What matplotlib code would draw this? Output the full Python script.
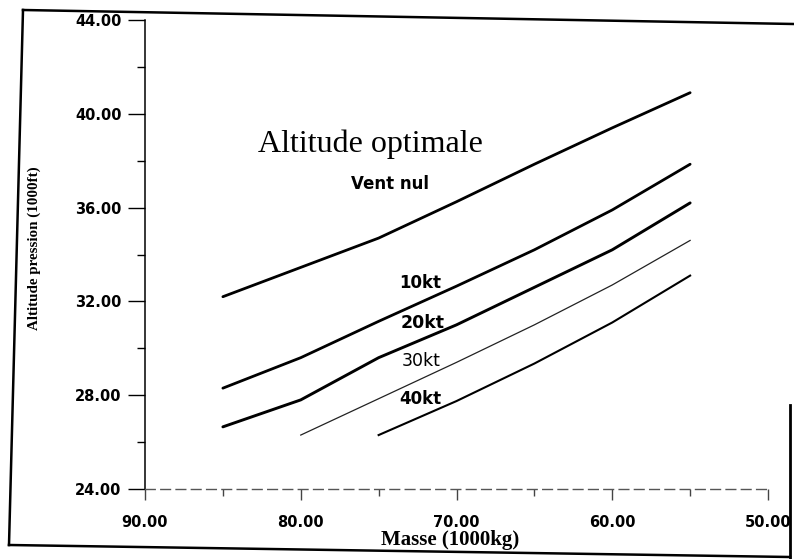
import matplotlib
matplotlib.use("Agg")
import matplotlib.pyplot as plt
from matplotlib.lines import Line2D
from matplotlib.ticker import MultipleLocator, FormatStrFormatter

# Aircraft mass (1000 kg) and optimum pressure altitude (1000 ft) per wind component
masse_vent_nul = [85, 80, 75, 70, 65, 60, 55]
alt_vent_nul = [32.2, 33.45, 34.7, 36.25, 37.85, 39.4, 40.9]

masse_10kt = [85, 80, 75, 70, 65, 60, 55]
alt_10kt = [28.3, 29.6, 31.15, 32.65, 34.2, 35.9, 37.85]

masse_20kt = [85, 80, 75, 70, 65, 60, 55]
alt_20kt = [26.65, 27.8, 29.6, 31.0, 32.6, 34.2, 36.2]

masse_30kt = [80, 75, 70, 65, 60, 55]
alt_30kt = [26.3, 27.85, 29.4, 31.0, 32.7, 34.6]

masse_40kt = [75, 70, 65, 60, 55]
alt_40kt = [26.3, 27.75, 29.35, 31.1, 33.1]

x_major_ticks = [90, 80, 70, 60, 50]
y_major_ticks = [24, 28, 32, 36, 40, 44]

W, H = 794, 559
fig = plt.figure(figsize=(W / 100, H / 100), dpi=100)
ax = fig.add_axes([145 / W, 1 - 489 / H, (768 - 145) / W, (489 - 20) / H])

ax.plot(masse_vent_nul, alt_vent_nul, color="black", lw=2.0, solid_capstyle="round")
ax.plot(masse_10kt, alt_10kt, color="black", lw=2.0, solid_capstyle="round")
ax.plot(masse_20kt, alt_20kt, color="black", lw=2.1, solid_capstyle="round")
ax.plot(masse_30kt, alt_30kt, color="#222222", lw=0.9)
ax.plot(masse_40kt, alt_40kt, color="black", lw=1.5)

ax.set_xlim(90, 50)
ax.set_ylim(24, 44)

ax.set_xticks(x_major_ticks)
ax.set_yticks(y_major_ticks)
ax.xaxis.set_minor_locator(MultipleLocator(5))
ax.yaxis.set_minor_locator(MultipleLocator(2))
ax.xaxis.set_major_formatter(FormatStrFormatter("%.2f"))
ax.yaxis.set_major_formatter(FormatStrFormatter("%.2f"))

for lab in ax.get_xticklabels() + ax.get_yticklabels():
    lab.set_fontfamily("DejaVu Sans")
    lab.set_fontweight("bold")
    lab.set_fontsize(10.5)

ax.tick_params(axis="y", which="major", direction="out", length=12, width=1, pad=5)
ax.tick_params(axis="y", which="minor", direction="out", length=6, width=1)
ax.tick_params(axis="x", which="major", direction="out", length=8, width=1, pad=11,
               color="#444444")
ax.tick_params(axis="x", which="minor", direction="out", length=5, width=1,
               color="#444444")

for side in ("top", "right"):
    ax.spines[side].set_visible(False)
ax.spines["left"].set_linewidth(1.1)
ax.spines["bottom"].set_linewidth(1.0)
ax.spines["bottom"].set_color("#555555")
ax.spines["bottom"].set_linestyle((0, (7, 4)))

ax.set_xlabel("Masse (1000kg)", family="Liberation Serif", weight="bold", fontsize=15)
ax.xaxis.set_label_coords(0.49, -0.088)
ax.set_ylabel("Altitude pression (1000ft)", family="Liberation Serif", weight="bold",
              fontsize=10.8)
ax.yaxis.set_label_coords(-0.167, 0.514)

ax.text(75.55, 38.7, "Altitude optimale", family="Liberation Serif", fontsize=23,
        ha="center", va="center")
ax.text(74.3, 37.0, "Vent nul", family="DejaVu Sans", weight="bold", fontsize=12,
        ha="center", va="center")
ax.text(72.3, 32.8, "10kt", family="DejaVu Sans", weight="bold", fontsize=12,
        ha="center", va="center")
ax.text(72.2, 31.1, "20kt", family="DejaVu Sans", weight="bold", fontsize=12.5,
        ha="center", va="center")
ax.text(72.25, 29.44, "30kt", family="DejaVu Sans", fontsize=12.5,
        ha="center", va="center")
ax.text(72.3, 27.82, "40kt", family="DejaVu Sans", weight="bold", fontsize=12,
        ha="center", va="center")


def frame_line(p0, p1, lw=1.8):
    fig.add_artist(Line2D([p0[0] / W, p1[0] / W], [1 - p0[1] / H, 1 - p1[1] / H],
                          color="black", lw=lw, transform=fig.transFigure))


# Page border around the chart
frame_line((23, 10), (794, 24))
frame_line((23, 10), (9, 545))
frame_line((9, 545), (790, 557))
frame_line((790, 405), (790, 559), lw=2.0)

fig.savefig("out.png", dpi=100)
